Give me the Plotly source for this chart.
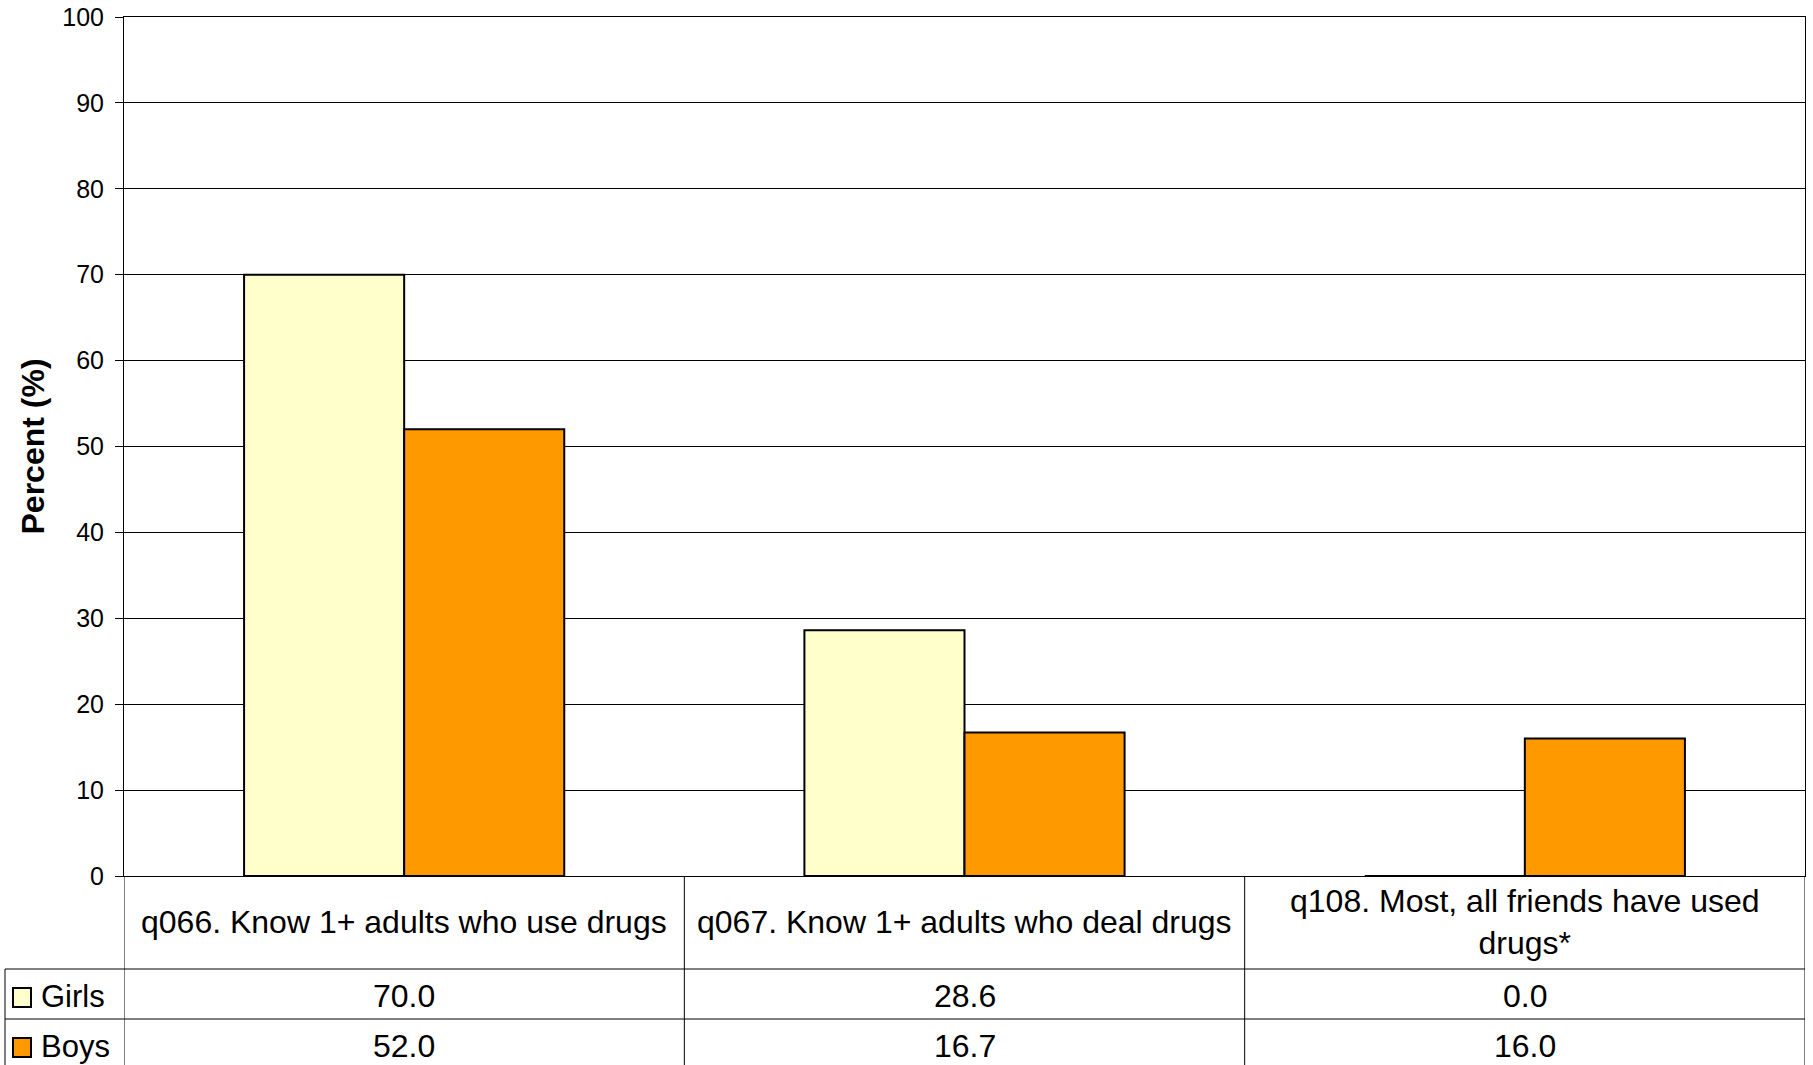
import plotly.graph_objects as go

categories = ["q066. Know 1+ adults who use drugs",
              "q067. Know 1+ adults who deal drugs",
              "q108. Most, all friends have used<br>drugs*"]
girls = [70.0, 28.6, 0.0]
boys = [52.0, 16.7, 16.0]
series_names = ["Girls", "Boys"]
series_colors = ["#FFFFCC", "#FF9900"]
y_ticks = list(range(0, 101, 10))

W, H = 1813, 1065
# target plot area in page pixels: x 124..1805, y 17..876
PX0, PX1, PY0, PY1 = 124, 1805, 17, 876
L, T = PX0, PY0
R = W - PX1
B = H - PY1
PW = PX1 - PX0
PH = PY1 - PY0
FONT = "Liberation Sans, Arial, sans-serif"

def py(p):  # page pixel row -> paper y
    return (PY1 - p) / PH

def px(p):  # page pixel col -> paper x
    return (p - PX0) / PW

xs = list(range(len(categories)))
fig = go.Figure()
for name, vals, col in zip(series_names, [girls, boys], series_colors):
    fig.add_trace(go.Bar(x=xs, y=vals, name=name, marker=dict(color=col, line=dict(color="#000000", width=2)),
                         showlegend=False))

fig.update_layout(
    width=W, height=H, margin=dict(l=L, r=R, t=T, b=B, autoexpand=False),
    paper_bgcolor="white", plot_bgcolor="white",
    barmode="group", bargap=0.4286, bargroupgap=0,
    font=dict(family=FONT, color="#000000"),
    xaxis=dict(range=[-0.5, 2.5], showticklabels=False, showgrid=False, showline=True, automargin=False,
               linecolor="#000000", linewidth=1, mirror=True, ticks="", zeroline=False),
    yaxis=dict(range=[0, 100], tickvals=y_ticks, ticks="outside", ticklen=8, tickcolor="#000000",
               showline=True, linecolor="#000000", linewidth=1, mirror=True, automargin=False,
               showgrid=True, gridcolor="#000000", gridwidth=1, zeroline=False,
               tickfont=dict(size=25, family=FONT), ticklabelstandoff=6, ticklabeloverflow="allow"),
)

shapes = []
line = dict(color="#000000", width=1)
for xv in [-0.5, 0.5, 1.5, 2.5]:
    shapes.append(dict(type="line", xref="x", yref="paper", x0=xv, x1=xv, y0=py(876), y1=py(1090), line=line))
for row in [969, 1019]:
    shapes.append(dict(type="line", xref="paper", yref="paper", x0=px(5), x1=1, y0=py(row), y1=py(row), line=line))
shapes.append(dict(type="line", xref="paper", yref="paper", x0=px(5), x1=px(5), y0=py(969), y1=py(1090), line=line))
for (top, bot), col in zip([(988, 1007), (1038, 1057)], series_colors):
    shapes.append(dict(type="rect", xref="paper", yref="paper", x0=px(13), x1=px(31), y0=py(bot), y1=py(top),
                       fillcolor=col, line=dict(color="#000000", width=2)))

annotations = []
for i, c in enumerate(categories):
    annotations.append(dict(x=i, y=py(922), xref="x", yref="paper", text=c, showarrow=False,
                            font=dict(size=32, family=FONT), xanchor="center", yanchor="middle"))
for row_y, name, vals in zip([996, 1046], series_names, [girls, boys]):
    annotations.append(dict(x=px(39), y=py(row_y), xref="paper", yref="paper", text=name, showarrow=False,
                            font=dict(size=31, family=FONT), xanchor="left", yanchor="middle"))
    for i, v in enumerate(vals):
        annotations.append(dict(x=i, y=py(row_y), xref="x", yref="paper", text=f"{v:.1f}", showarrow=False,
                                font=dict(size=32, family=FONT), xanchor="center", yanchor="middle"))
annotations.append(dict(x=px(32), y=0.5, xref="paper", yref="paper", text="<b>Percent (%)</b>", showarrow=False,
                        textangle=-90, font=dict(size=32, family=FONT), xanchor="center", yanchor="middle"))

fig.update_layout(shapes=shapes, annotations=annotations)
fig.write_html("out.html", config={"displayModeBar": False},
               post_script="document.body.style.margin='0';document.body.style.overflow='hidden';")
